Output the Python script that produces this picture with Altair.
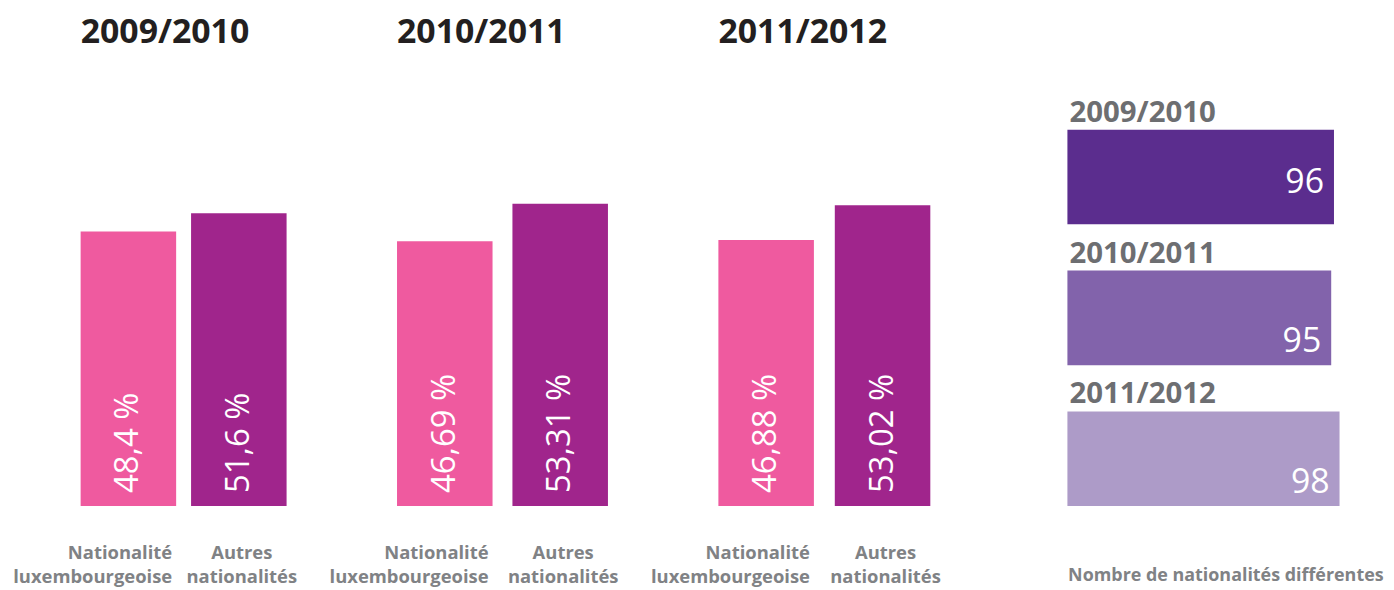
import altair as alt
import pandas as pd

# ---- data ----
years = ["2009/2010", "2010/2011", "2011/2012"]
categories = ["Nationalité luxembourgeoise", "Autres nationalités"]
cat_lines = ["Nationalité\nluxembourgeoise", "Autres\nnationalités"]
lux_pct = [48.4, 46.69, 46.88]
other_pct = [51.6, 53.31, 53.02]
nat_counts = [96, 95, 98]
footer = "Nombre de nationalités différentes"

# ---- style ----
bar_colors = ["#ef5a9f", "#a0258c"]
count_colors = ["#5b2d8e", "#8263ab", "#ad9bc8"]
FONT = "Open Sans"
TITLE_COLOR = "#231f20"
LABEL_GRAY = "#808285"
YEAR_GRAY = "#6d6e71"
H = 446


def fmt_pct(v):
    return f"{v:g}".replace(".", ",") + " %"


def year_panel(i, width, pad_inner):
    df = pd.DataFrame({
        "cat": categories,
        "lines": cat_lines,
        "value": [lux_pct[i], other_pct[i]],
    })
    df["label"] = df["value"].map(fmt_pct)
    xscale = alt.Scale(domain=categories, paddingInner=pad_inner, paddingOuter=0)
    yscale = alt.Scale(domain=[0, 78.25], nice=False, zero=True)
    base = alt.Chart(df)
    bars = base.mark_bar().encode(
        x=alt.X("cat:N", scale=xscale, axis=None),
        y=alt.Y("value:Q", scale=yscale, axis=None),
        color=alt.Color("cat:N", scale=alt.Scale(domain=categories, range=bar_colors), legend=None),
    )
    pct = base.mark_text(
        angle=270, align="left", baseline="middle", dx=13,
        font=FONT, fontSize=33, fontWeight=400, color="white",
    ).encode(
        x=alt.X("cat:N", scale=xscale, axis=None),
        y=alt.datum(0),
        text="label:N",
    )
    lab1 = base.transform_filter(alt.datum.cat == categories[0]).mark_text(
        align="right", baseline="top", dx=-4, dy=38, lineBreak="\n", lineHeight=24,
        font=FONT, fontSize=18.5, fontWeight="bold", color=LABEL_GRAY,
    ).encode(
        x=alt.X("cat:N", scale=xscale, axis=None, bandPosition=1),
        y=alt.datum(0),
        text="lines:N",
    )
    lab2 = base.transform_filter(alt.datum.cat == categories[1]).mark_text(
        align="center", baseline="top", dx=3, dy=38, lineBreak="\n", lineHeight=24,
        font=FONT, fontSize=18.5, fontWeight="bold", color=LABEL_GRAY,
    ).encode(
        x=alt.X("cat:N", scale=xscale, axis=None),
        y=alt.datum(0),
        text="lines:N",
    )
    return alt.layer(bars, pct, lab1, lab2).properties(
        width=width, height=H,
        title=alt.TitleParams(years[i], anchor="start", frame="group", fontSize=34, font=FONT,
                              fontWeight="bold", color=TITLE_COLOR, offset=12),
    )


p1 = year_panel(0, 207, 0.1351)
p2 = year_panel(1, 212, 0.1724)
p3 = year_panel(2, 213, 0.1795)

dfc = pd.DataFrame({"year": years, "n": nat_counts})
dfc["label"] = dfc["n"].astype(str)
yb = alt.Scale(domain=years, paddingInner=0.3286, paddingOuter=0.24, align=1)
xq = alt.Scale(domain=[-9.6, 104.7], nice=False, zero=False)
x_axis = alt.Axis(
    title=footer, labels=False, ticks=False, domain=False, grid=False,
    titleAnchor="start", titleAlign="left", titleFontSize=18, titleFont=FONT,
    titleFontWeight="bold", titleColor=LABEL_GRAY, titlePadding=61, titleX=27,
)
cb = alt.Chart(dfc)
hbars = cb.mark_bar().encode(
    y=alt.Y("year:N", scale=yb, axis=None),
    x=alt.X("n:Q", scale=xq, axis=x_axis),
    x2=alt.datum(0),
    color=alt.Color("year:N", scale=alt.Scale(domain=years, range=count_colors), legend=None),
)


def value_text(filt, dy):
    return cb.transform_filter(filt).mark_text(
        align="right", baseline="alphabetic", dx=-10, dy=dy,
        font=FONT, fontSize=34, fontWeight=400, color="white",
    ).encode(
        y=alt.Y("year:N", scale=yb, axis=None, bandPosition=1),
        x=alt.X("n:Q", scale=xq, axis=x_axis),
        text="label:N",
    )


hvals1 = value_text(alt.datum.year == years[0], -31)
hvals2 = value_text(alt.datum.year != years[0], -13)
hyears = cb.mark_text(
    align="left", baseline="alphabetic", dx=2, dy=-8,
    font=FONT, fontSize=29.5, fontWeight="bold", color=YEAR_GRAY,
).encode(
    y=alt.Y("year:N", scale=yb, axis=None, bandPosition=0),
    x=alt.datum(0),
    text="year:N",
)
right = alt.layer(hbars, hvals1, hvals2, hyears).properties(width=319, height=H)

chart = alt.hconcat(
    p1, p2, p3, right,
    spacing=111,
    bounds="flush",
).resolve_scale(color="independent").properties(
    padding={"left": 5, "top": 7, "right": 2, "bottom": 2},
    background="white",
).configure_view(strokeWidth=0, stroke=None)

chart.save("out.html", embed_options={"renderer": "svg", "actions": False})
